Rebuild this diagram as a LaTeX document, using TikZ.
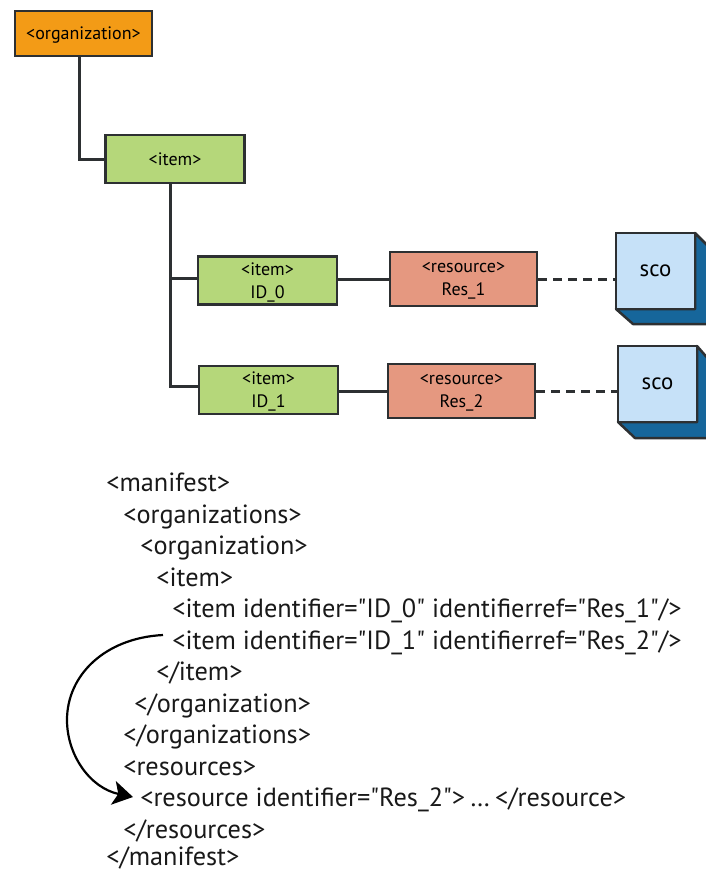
\documentclass[tikz,border=0pt]{standalone}
\usepackage{fontspec}
\newfontfamily\labelfont{PT Sans}
\usepackage{xcolor}
\usetikzlibrary{arrows.meta}
\definecolor{orgorange}{RGB}{243,155,22}
\definecolor{itemgreen}{RGB}{181,215,122}
\definecolor{ressalmon}{RGB}{229,152,128}
\definecolor{scolight}{RGB}{198,225,248}
\definecolor{scodark}{RGB}{22,102,155}
\definecolor{edgegrey}{RGB}{45,48,50}
\tikzset{>={Stealth[width=0.24in,length=0.20in,inset=0.05in]}}
\tikzset{
  boxbase/.style={shape=rectangle,draw=edgegrey,line width=0.025in,font=\labelfont\fontsize{13pt}{16.5pt}\selectfont,align=center,inner sep=0pt,text depth=0pt},
  orgbox/.style={boxbase,fill=orgorange,minimum height=0.45in,minimum width=1.37in},
  itembox/.style={boxbase,fill=itemgreen,minimum height=0.48in,minimum width=1.39in},
  resbox/.style={boxbase,fill=ressalmon,minimum height=0.54in,minimum width=1.47in},
  scobox/.style={boxbase,fill=scolight,minimum height=0.76in,minimum width=0.79in,font=\labelfont\fontsize{16.5pt}{18pt}\selectfont},
  scoside/.style={draw=edgegrey,line width=0.025in,fill=scodark,line join=round},
  wire/.style={draw=edgegrey,line width=0.03in},
  xmlline/.style={anchor=west,inner sep=0pt,text=black!90,text height=0.25in,text depth=0.06in,font=\labelfont\fontsize{19pt}{23pt}\selectfont}
}
\begin{document}
\begin{tikzpicture}

\useasboundingbox (0,0) rectangle (7.06in,-8.71in);

\path (0.835in,-0.335in) node (organization) [orgbox]{<organization>};
\path (1.75in,-1.59in) node (item) [itembox]{<item>};
\path (2.675in,-2.805in) node (item0) [itembox]{<item>\\ID\_0};
\path (2.685in,-3.90in) node (item1) [itembox]{<item>\\ID\_1};
\path (4.635in,-2.79in) node (res1) [resbox]{<resource>\\Res\_1};
\path (4.615in,-3.91in) node (res2) [resbox]{<resource>\\Res\_2};

\draw [scoside] (6.16in,-3.09in) -- (6.33in,-3.24in) -- (7.10in,-3.24in) -- (7.10in,-2.48in) -- (6.95in,-2.33in) -- (6.95in,-3.09in) -- cycle;
\draw [scoside] (6.18in,-4.22in) -- (6.35in,-4.38in) -- (7.10in,-4.38in) -- (7.10in,-3.61in) -- (6.97in,-3.46in) -- (6.97in,-4.22in) -- cycle;
\path (6.555in,-2.71in) node (sco1) [scobox]{sco};
\path (6.575in,-3.84in) node (sco2) [scobox]{sco};

\coordinate (orgdrop) at (0.79in,-0.56in);
\coordinate (itemdrop) at (1.70in,-1.83in);
\coordinate (item0in) at (1.98in,-2.78in);
\coordinate (item1in) at (1.99in,-3.86in);
\draw [wire] (orgdrop) |- (item.west);
\draw [wire] (itemdrop) |- (item0in);
\draw [wire] (itemdrop) |- (item1in);
\draw [wire] (item0.east |- res1.west) -- (res1.west);
\draw [wire] (item1.east |- res2.west) -- (res2.west);
\draw [wire,dashed,dash pattern=on 0.09in off 0.06in] (res1.east) -- (sco1.west |- res1.east);
\draw [wire,dashed,dash pattern=on 0.09in off 0.06in] (res2.east) -- (sco2.west |- res2.east);

\path (1.06in,-4.82in) node (manifest) [xmlline]{<manifest>};
\path (1.23in,-5.14in) node (organizations) [xmlline]{<organizations>};
\path (1.40in,-5.45in) node (orgopen) [xmlline]{<organization>};
\path (1.56in,-5.77in) node (itemopen) [xmlline]{<item>};
\path (1.72in,-6.08in) node (itemzero) [xmlline]{<item identifier="ID\_0" identifierref="Res\_1"/>};
\path (1.72in,-6.40in) node (itemone) [xmlline]{<item identifier="ID\_1" identifierref="Res\_2"/>};
\path (1.56in,-6.71in) node (itemclose) [xmlline]{</item>};
\path (1.34in,-7.03in) node (orgclose) [xmlline]{</organization>};
\path (1.23in,-7.34in) node (organizationsclose) [xmlline]{</organizations>};
\path (1.23in,-7.66in) node (resources) [xmlline]{<resources>};
\path (1.40in,-7.97in) node (resource) [xmlline]{<resource identifier="Res\_2">\hspace{0.05in}…\hspace{0.05in}</resource>};
\path (1.23in,-8.29in) node (resourcesclose) [xmlline]{</resources>};
\path (1.06in,-8.56in) node (manifestclose) [xmlline]{</manifest>};

\draw [->,line width=0.022in,black] ([xshift=-0.09in,yshift=0.05in]itemone.west) .. controls (1.05in,-6.38in) and (0.67in,-6.75in) .. (0.67in,-7.20in) .. controls (0.67in,-7.55in) and (0.90in,-7.88in) .. ([xshift=-0.07in]resource.west);

\end{tikzpicture}
\end{document}
